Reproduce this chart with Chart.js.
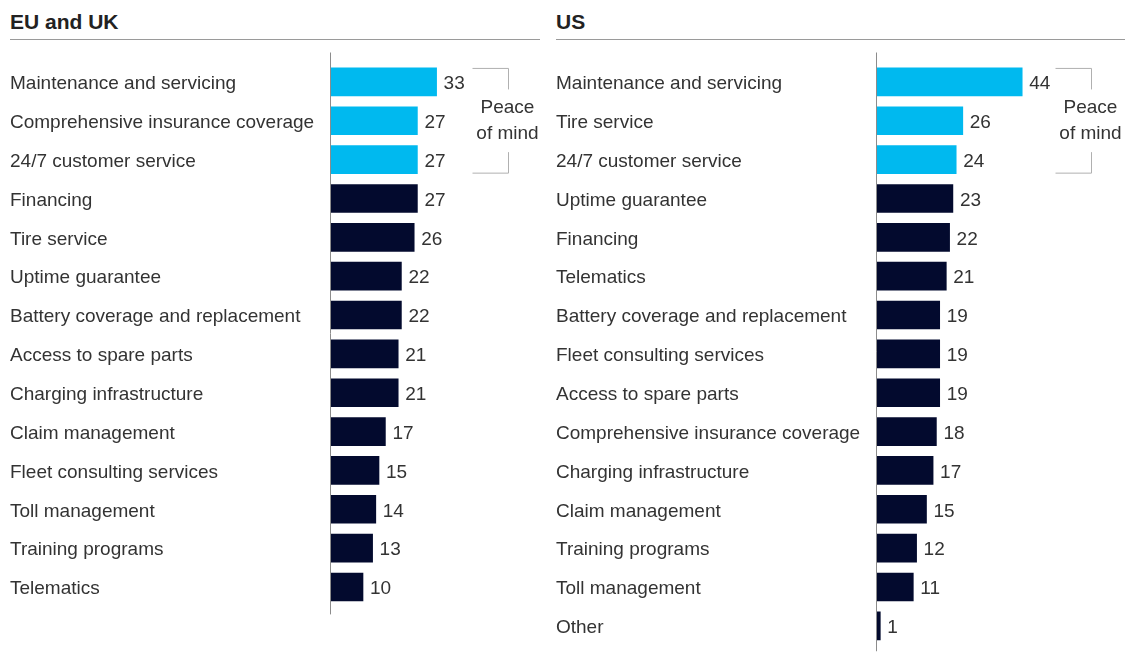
<!DOCTYPE html>
<html>
<head>
<meta charset="utf-8">
<script src="https://cdn.jsdelivr.net/npm/chart.js@4"></script>
<style>
  html, body { margin: 0; padding: 0; background: #fff; }
  body { width: 1137px; height: 653px; position: relative; overflow: hidden;
         font-family: "Liberation Sans", Arial, sans-serif; }
  .title { position: absolute; top: 10px; font-size: 21px; font-weight: bold; color: #222; }
  .rule { position: absolute; top: 39px; height: 1px; background: #9a9a9a; }
  .panel { position: absolute; top: 0; height: 680px; }
</style>
</head>
<body>
<div class="title" style="left:10px">EU and UK</div>
<div class="rule" style="left:10px;width:530px"></div>
<div class="title" style="left:556px">US</div>
<div class="rule" style="left:556px;width:569px"></div>

<div class="panel" style="left:0;width:548px"><canvas id="euChart"></canvas></div>
<div class="panel" style="left:546px;width:591px"><canvas id="usChart"></canvas></div>

<script>
// EU and UK
const euLabels = [
  'Maintenance and servicing', 'Comprehensive insurance coverage', '24/7 customer service',
  'Financing', 'Tire service', 'Uptime guarantee', 'Battery coverage and replacement',
  'Access to spare parts', 'Charging infrastructure', 'Claim management',
  'Fleet consulting services', 'Toll management', 'Training programs', 'Telematics'
];
const euValues = [33, 27, 27, 27, 26, 22, 22, 21, 21, 17, 15, 14, 13, 10];

// US
const usLabels = [
  'Maintenance and servicing', 'Tire service', '24/7 customer service', 'Uptime guarantee',
  'Financing', 'Telematics', 'Battery coverage and replacement', 'Fleet consulting services',
  'Access to spare parts', 'Comprehensive insurance coverage', 'Charging infrastructure',
  'Claim management', 'Training programs', 'Toll management', 'Other'
];
const usValues = [44, 26, 24, 23, 22, 21, 19, 19, 19, 18, 17, 15, 12, 11, 1];

// first N bars of each panel are the "peace of mind" group
const peaceCount = 3;
const peaceText = ['Peace', 'of mind'];

const CYAN = '#00b9ef';
const NAVY = '#030a2e';
const TEXT = '#333333';
const AXIS = '#8c8c8c';
const FONT = '"Liberation Sans", Arial, sans-serif';
const ROW = 38.85;

// value labels, axis line and bracket are drawn after the bars
const extras = {
  id: 'extras',
  afterDatasetsDraw(chart, args, opts) {
    const ctx = chart.ctx;
    const area = chart.chartArea;
    const meta = chart.getDatasetMeta(0);
    const values = chart.data.datasets[0].data;
    ctx.save();

    // axis line
    ctx.strokeStyle = AXIS;
    ctx.lineWidth = 1;
    ctx.beginPath();
    ctx.moveTo(area.left - 0.5, area.top - 10);
    ctx.lineTo(area.left - 0.5, area.bottom + opts.axisTail);
    ctx.stroke();

    // value labels
    ctx.font = '19px ' + FONT;
    ctx.fillStyle = TEXT;
    ctx.textBaseline = 'middle';
    ctx.textAlign = 'left';
    meta.data.forEach((bar, i) => {
      ctx.fillText(String(values[i]), bar.x + 7, bar.y + 2);
    });

    // peace of mind bracket
    const top = meta.data[0].y - 14 + 0.5;
    const bottom = meta.data[peaceCount - 1].y + 14 - 0.5;
    const bx = opts.bracketX + 0.5;
    ctx.strokeStyle = '#b0b0b0';
    ctx.beginPath();
    ctx.moveTo(bx - 36, top);
    ctx.lineTo(bx, top);
    ctx.lineTo(bx, top + 21);
    ctx.moveTo(bx, bottom - 21);
    ctx.lineTo(bx, bottom);
    ctx.lineTo(bx - 36, bottom);
    ctx.stroke();
    ctx.textAlign = 'center';
    const mid = (top + bottom) / 2;
    ctx.fillText(peaceText[0], bx - 1, mid - 13);
    ctx.fillText(peaceText[1], bx - 1, mid + 13);
    ctx.restore();
  }
};

function makeChart(id, labels, values, o) {
  const height = 680;
  const areaTop = 62.5;
  const areaBottom = areaTop + labels.length * ROW;
  new Chart(document.getElementById(id), {
    type: 'bar',
    data: {
      labels,
      datasets: [{
        data: values,
        backgroundColor: values.map((v, i) => i < peaceCount ? CYAN : NAVY),
        barThickness: 28,
        borderWidth: 0,
      }],
    },
    options: {
      indexAxis: 'y',
      responsive: true,
      maintainAspectRatio: false,
      animation: false,
      layout: {
        padding: { left: 10, right: o.padRight, top: areaTop, bottom: height - areaBottom },
      },
      plugins: {
        legend: { display: false },
        tooltip: { enabled: false },
        extras: { bracketX: o.bracketX, axisTail: o.axisTail },
      },
      scales: {
        x: { display: false, min: 0, max: 50 },
        y: {
          grid: { display: false },
          border: { display: false },
          ticks: {
            color: TEXT,
            font: { size: 19, family: FONT },
            crossAlign: 'far',
            padding: 0,
            labelOffset: 2,
          },
          afterFit(scale) { scale.width = 321; },
        },
      },
    },
    plugins: [extras],
  });
}

makeChart('euChart', euLabels, euValues, { padRight: 57, bracketX: 508, axisTail: 8 });
makeChart('usChart', usLabels, usValues, { padRight: 95, bracketX: 545, axisTail: 6 });
</script>
</body>
</html>
